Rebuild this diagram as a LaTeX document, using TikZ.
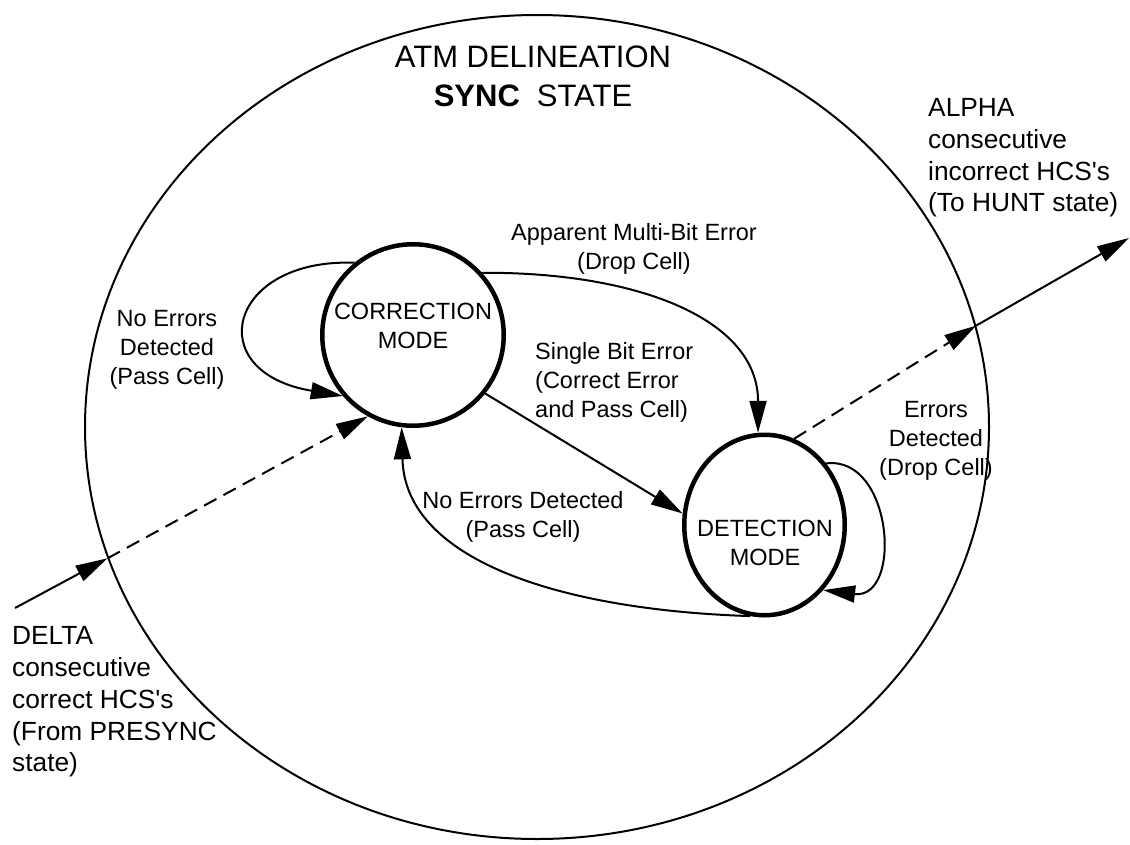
\documentclass[tikz,border=0pt]{standalone}
\usepackage{fontspec}
\setmainfont{Liberation Sans}
\newfontfamily\quotefont{Liberation Sans}
\usetikzlibrary{arrows.meta,shapes.geometric}
\newcommand{\apos}{{\quotefont\char"27}}
\begin{document}
\begin{tikzpicture}[x=1pt,y=-1pt,
  bigstate/.style={draw, ellipse, line width=2pt, minimum width=904pt, minimum height=824pt, inner sep=0pt},
  corrstate/.style={draw, circle, line width=4.5pt, minimum size=181.5pt, inner sep=0pt},
  detstate/.style={draw, ellipse, line width=4.5pt, minimum width=160.5pt, minimum height=180.5pt, inner sep=0pt},
  modetext/.style={font=\fontsize{23.5}{29}\selectfont, align=center, inner sep=0pt},
  lab/.style={font=\fontsize{23.5}{29}\selectfont, inner sep=0pt},
  iotext/.style={font=\fontsize{26.3}{31.7}\selectfont, align=left, inner sep=0pt, anchor=west},
  titletext/.style={font=\fontsize{31}{39}\selectfont, align=center, inner sep=0pt},
  conn/.style={line width=2pt, -{Triangle[length=32pt,width=17pt]}},
  dconn/.style={conn, dash pattern=on 14pt off 8pt}]
\useasboundingbox (0,0) rectangle (1130,844);

% states
\node[bigstate] (sync) at (537,427) {};
\node[corrstate] (corr) at (413,335) {};
\node[detstate] (det) at (764.5,525) {};
\node[modetext] (corrt) at (413,326) {CORRECTION\\MODE};
\node[modetext] (dett) at (765,542.5) {DETECTION\\MODE};

% title
\node[titletext] (title) at (533,76.4) {ATM DELINEATION\\\textbf{SYNC}\hspace{17pt}STATE};

% external texts
\node[iotext] (alpha) at (928,158) {ALPHA\\consecutive\\incorrect HCS\apos s\\(To HUNT state)};
\node[iotext] (delta) at (12,702) {DELTA\\consecutive\\correct HCS\apos s\\(From PRESYNC\\state)};

% edge labels
\node[lab, align=center] (l1) at (167,350) {No Errors\\Detected\\(Pass Cell)};
\node[lab, align=center] (l2) at (634,248.5) {Apparent Multi-Bit Error\\(Drop Cell)};
\node[lab, align=left, anchor=west] (l3) at (535,382.5) {Single Bit Error\\(Correct Error\\and Pass Cell)};
\node[lab, align=center] (l4) at (523,516.5) {No Errors Detected\\(Pass Cell)};
\node[lab, align=center] (l5) at (936,440.5) {Errors\\Detected\\(Drop Cell)};

% free ends
\coordinate (din) at (15,608);
\coordinate (aout) at (1129,238);

% connectors
\draw[conn] (corr.129) .. controls (228,258) and (200,372) .. (corr.221);
\draw[conn] (corr.42) .. controls (640,272) and (758,320) .. (det.94);
\draw[conn] (corr.321) -- (det.172);
\draw[conn] (det.261) .. controls (560,610) and (405,560) .. (corr.263);
\draw[conn] (det.45) .. controls (893,455) and (903,600) .. (det.312);

\draw[conn] (din) -- (sync.197);
\draw[dconn] (sync.197) -- (corr.241);
\draw[dconn] (det.71) -- (sync.13);
\draw[conn] (sync.13) -- (aout);
\end{tikzpicture}
\end{document}
